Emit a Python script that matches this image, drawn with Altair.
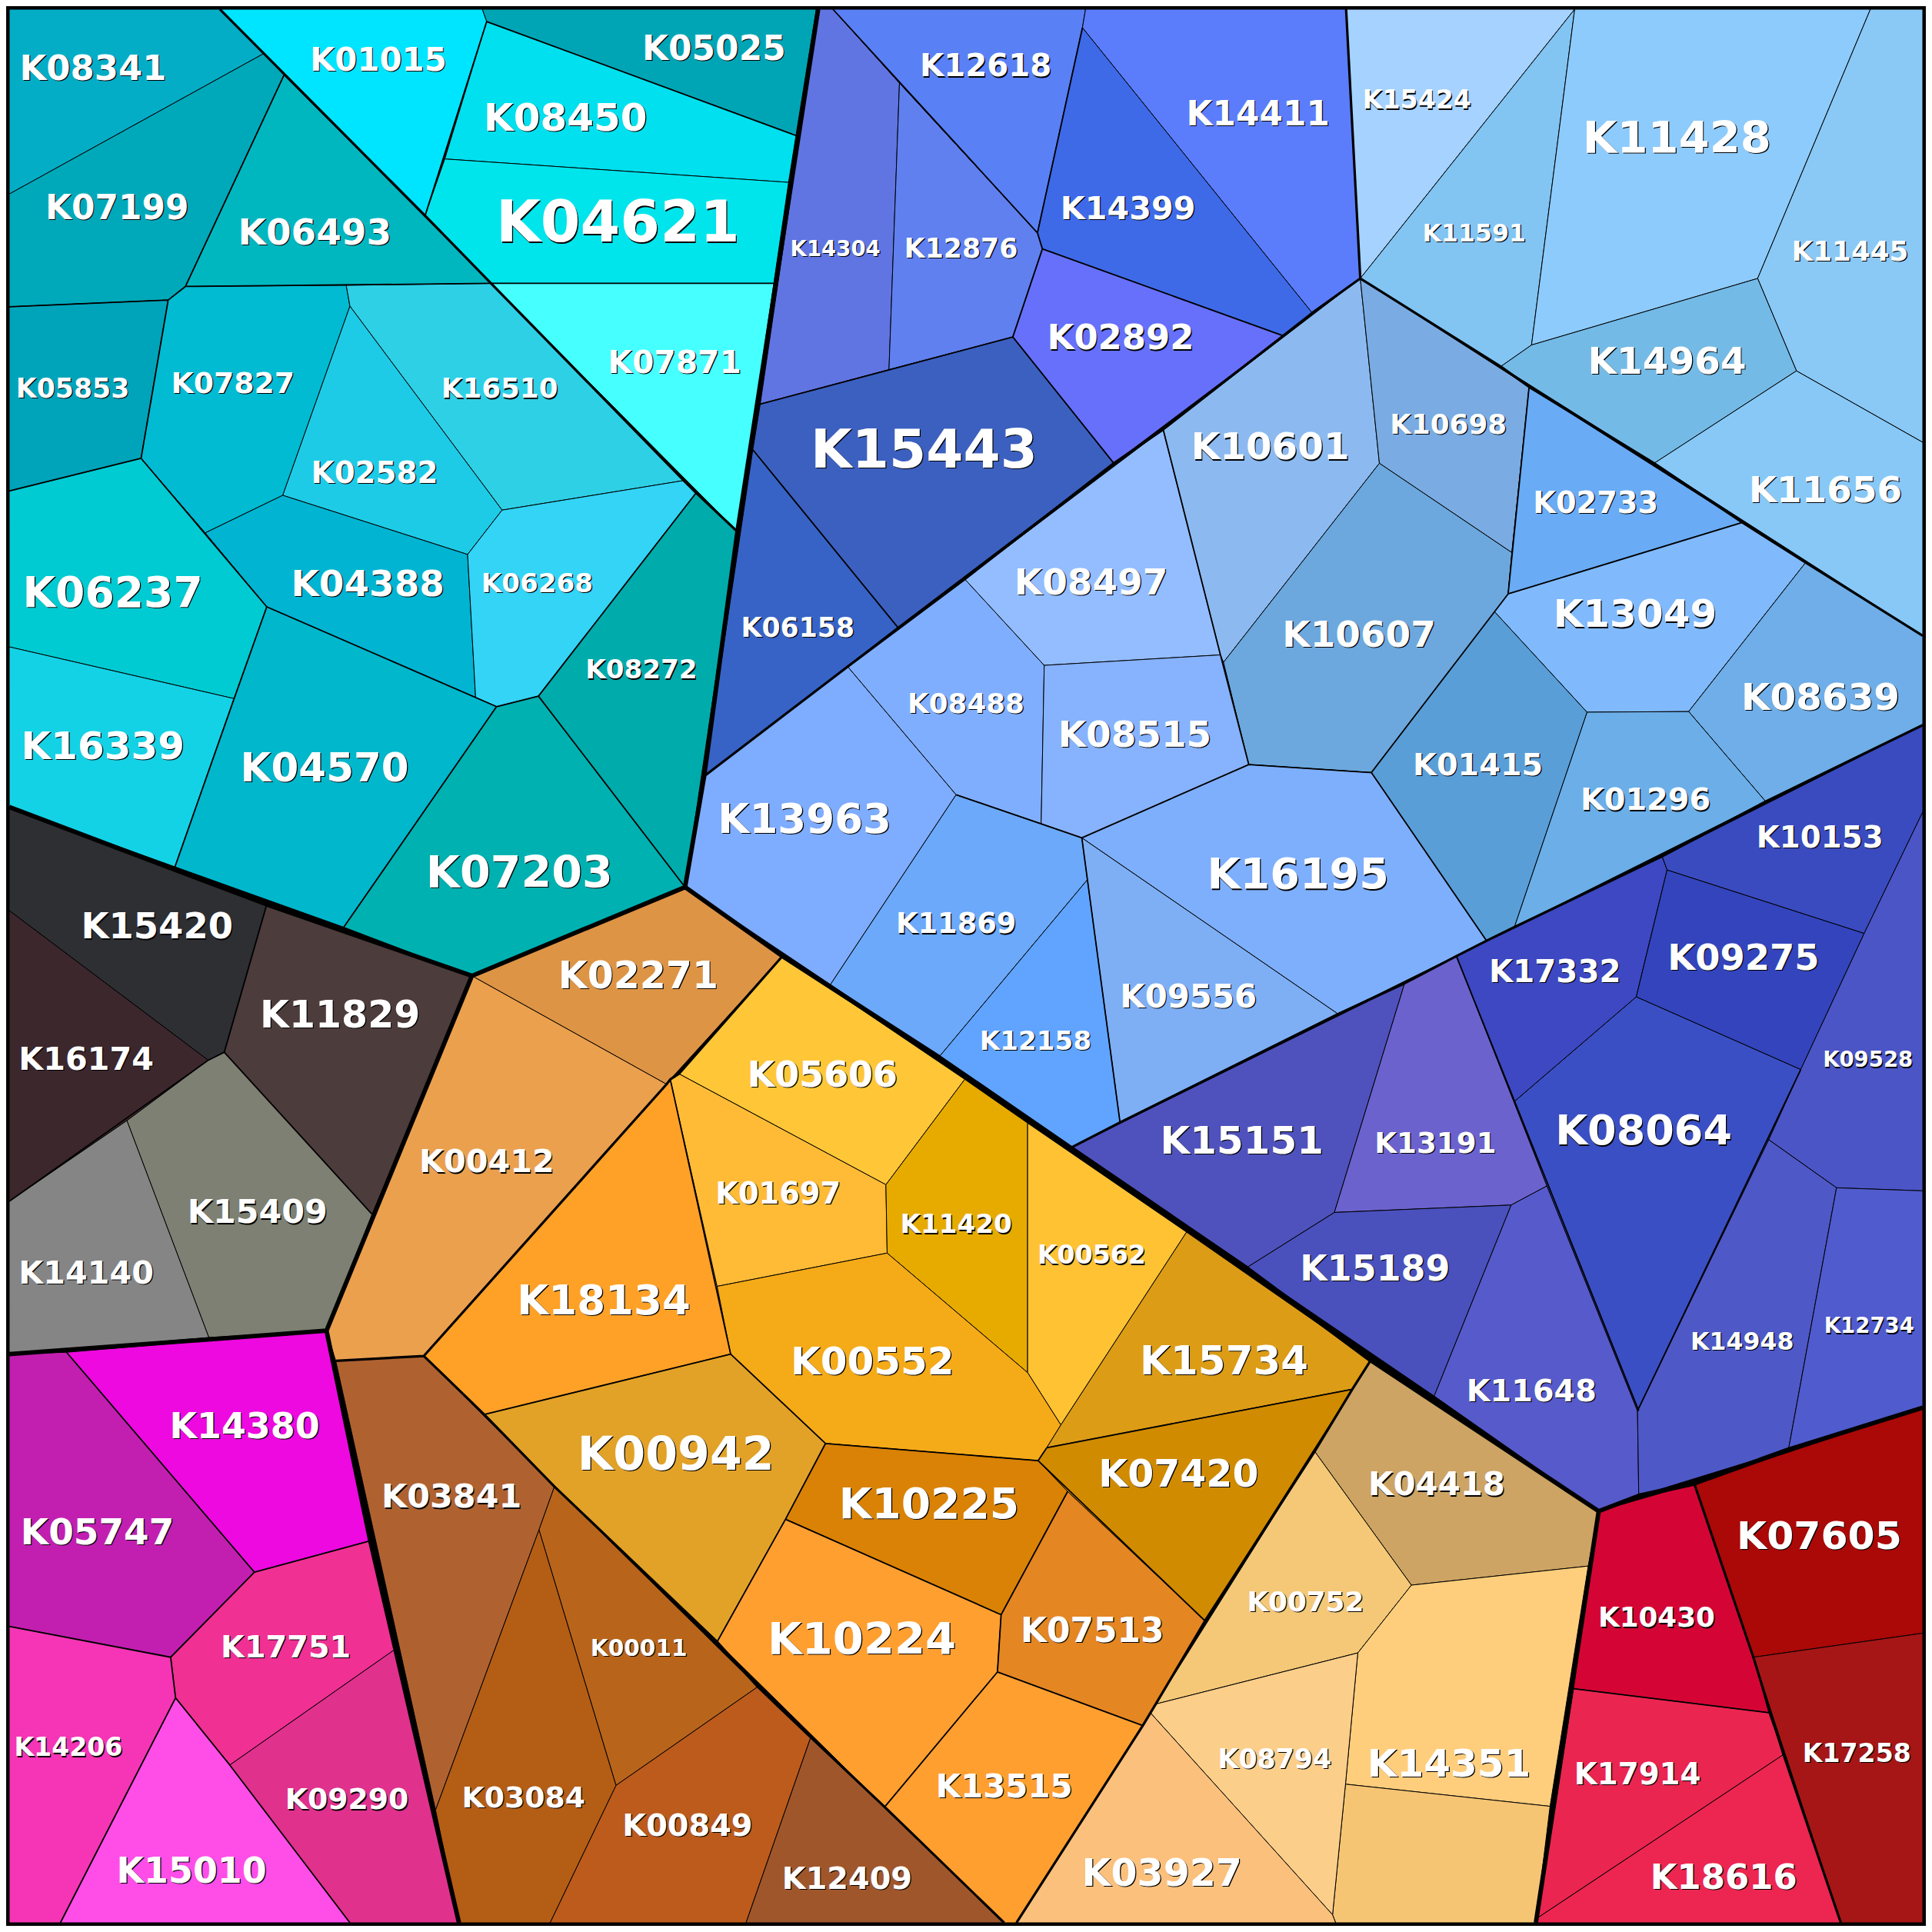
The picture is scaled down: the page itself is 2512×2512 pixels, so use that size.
import altair as alt
import pandas as pd

# Map units: the picture's 3136-unit grid
cells = {
 "K01015":[(357,15),(783,15),(790,35),(690,350)],
 "K05025":[(783,15),(1325,15),(1292,220),(790,35)],
 "K08450":[(790,35),(1292,220),(1280,296),(722,258)],
 "K04621":[(722,258),(1280,296),(1256,460),(797,460),(690,350)],
 "K07871":[(797,460),(1256,460),(1197,863)],
 "K08341":[(15,15),(357,15),(428,87),(15,315)],
 "K07199":[(15,315),(428,87),(461,122),(301,465),(273,487),(15,498)],
 "K06493":[(461,122),(797,460),(562,463),(301,465)],
 "K05853":[(15,498),(273,487),(229,744),(15,797)],
 "K07827":[(273,487),(301,465),(562,463),(568,497),(459,804),(333,865),(229,744)],
 "K16510":[(562,463),(797,460),(1110,780),(815,828),(568,497)],
 "K02582":[(568,497),(815,828),(759,900),(459,804)],
 "K04388":[(333,865),(459,804),(759,900),(772,1132),(433,985)],
 "K06268":[(815,828),(1110,780),(1130,800),(874,1130),(806,1147),(772,1132),(759,900)],
 "K06237":[(15,797),(229,744),(333,865),(433,985),(380,1134),(15,1050)],
 "K16339":[(15,1050),(380,1134),(284,1407),(15,1310)],
 "K04570":[(433,985),(772,1132),(806,1147),(558,1505),(284,1407),(380,1134)],
 "K07203":[(806,1147),(874,1130),(1112,1440),(766,1584),(558,1505)],
 "K08272":[(874,1130),(1130,800),(1197,863),(1112,1440)],
 "K15420":[(15,1310),(433,1468),(364,1708),(338,1721),(15,1478)],
 "K11829":[(433,1468),(766,1584),(604,1971),(364,1708)],
 "K16174":[(15,1478),(338,1721),(206,1819),(15,1950)],
 "K15409":[(338,1721),(364,1708),(604,1971),(530,2160),(339,2171),(206,1819)],
 "K14140":[(15,1950),(206,1819),(339,2171),(15,2198)],
 "K14380":[(108,2195),(530,2160),(601,2501),(413,2552)],
 "K05747":[(15,2198),(108,2195),(413,2552),(277,2690),(15,2640)],
 "K17751":[(413,2552),(601,2501),(640,2678),(373,2865),(285,2756),(277,2690)],
 "K09290":[(640,2678),(745,3121),(568,3121),(373,2865)],
 "K14206":[(15,2640),(277,2690),(285,2756),(98,3121),(15,3121)],
 "K15010":[(285,2756),(373,2865),(568,3121),(98,3121)],
 "K03841":[(545,2209),(688,2201),(900,2413),(875,2483),(707,2938)],
 "K03084":[(875,2483),(1000,2898),(893,3121),(745,3121),(707,2938)],
 "K00011":[(900,2413),(1230,2738),(1000,2898),(875,2483)],
 "K00849":[(1000,2898),(1230,2738),(1316,2820),(1211,3121),(893,3121)],
 "K12409":[(1316,2820),(1630,3121),(1211,3121)],
 "K02271":[(766,1584),(1112,1440),(1270,1552),(1088,1752),(1082,1760)],
 "K00412":[(766,1584),(1082,1760),(688,2201),(545,2209),(530,2160)],
 "K18134":[(1088,1752),(1164,2088),(1186,2198),(786,2296),(688,2201)],
 "K05606":[(1102,1743),(1270,1552),(1566,1752),(1438,1923)],
 "K01697":[(1102,1743),(1438,1923),(1440,2034),(1164,2088),(1088,1752)],
 "K11420":[(1438,1923),(1566,1752),(1668,1823),(1668,2228),(1440,2034)],
 "K00562":[(1668,1823),(1926,2000),(1722,2313),(1668,2228)],
 "K00552":[(1164,2088),(1440,2034),(1668,2228),(1722,2313),(1699,2350),(1685,2371),(1340,2343),(1186,2198)],
 "K15734":[(1926,2000),(2225,2208),(2195,2255),(1699,2350),(1722,2313)],
 "K07420":[(1699,2350),(2195,2255),(1956,2631),(1733,2421),(1685,2371)],
 "K00942":[(786,2296),(1186,2198),(1340,2343),(1275,2466),(1164,2665),(900,2413)],
 "K10225":[(1340,2343),(1685,2371),(1733,2421),(1625,2621),(1275,2466)],
 "K10224":[(1275,2466),(1625,2621),(1619,2714),(1436,2933),(1164,2665)],
 "K07513":[(1733,2421),(1956,2631),(1855,2801),(1619,2714),(1625,2621)],
 "K13515":[(1619,2714),(1855,2801),(1650,3121),(1630,3121),(1436,2933)],
 "K04418":[(2225,2208),(2595,2453),(2578,2542),(2291,2573),(2134,2356)],
 "K00752":[(2134,2356),(2291,2573),(2204,2683),(1876,2766)],
 "K14351":[(2291,2573),(2578,2542),(2516,2932),(2184,2896),(2204,2683)],
 "K_blank":[(2184,2896),(2516,2932),(2493,3121),(2168,3121),(2163,3108)],
 "K08794":[(2204,2683),(2184,2896),(2163,3108),(1868,2781),(1876,2766)],
 "K03927":[(1868,2781),(2163,3108),(2168,3121),(1650,3121)],
 "K07605":[(2750,2408),(3121,2285),(3121,2651),(2846,2690)],
 "K17258":[(2846,2690),(3121,2651),(3121,3121),(2988,3121)],
 "K10430":[(2595,2453),(2750,2408),(2846,2690),(2871,2780),(2554,2741)],
 "K17914":[(2554,2741),(2871,2780),(2895,2848),(2496,3113)],
 "K18616":[(2895,2848),(2988,3121),(2493,3121),(2496,3113)],
 "K15151":[(1738,1863),(2280,1596),(2166,1968),(2023,2058)],
 "K13191":[(2280,1596),(2364,1552),(2511,1925),(2453,1956),(2166,1968)],
 "K15189":[(2023,2058),(2166,1968),(2453,1956),(2328,2266)],
 "K11648":[(2453,1956),(2511,1925),(2658,2290),(2660,2428),(2595,2453),(2328,2266)],
 "K08064":[(2458,1788),(2656,1618),(2923,1736),(2871,1850),(2658,2290),(2511,1925)],
 "K17332":[(2364,1552),(2698,1390),(2706,1412),(2668,1568),(2656,1618),(2458,1788)],
 "K09275":[(2706,1412),(3026,1515),(2923,1736),(2656,1618)],
 "K10153":[(2698,1390),(3121,1177),(3121,1318),(3026,1515),(2706,1412)],
 "K09528":[(3121,1318),(3121,1933),(2981,1928),(2871,1850),(2923,1736),(3026,1515)],
 "K14948":[(2871,1850),(2981,1928),(2903,2353),(2660,2428),(2658,2290)],
 "K12734":[(2981,1928),(3121,1933),(3121,2285),(2903,2353)],
 "K13963":[(1143,1260),(1376,1082),(1552,1290),(1348,1598),(1112,1440)],
 "K08488":[(1376,1082),(1566,940),(1695,1080),(1690,1337),(1552,1290)],
 "K08497":[(1566,940),(1888,697),(1981,1063),(1695,1080)],
 "K08515":[(1695,1080),(1981,1063),(1986,1075),(2027,1241),(1756,1360),(1690,1337)],
 "K10601":[(1888,697),(2208,452),(2239,752),(1986,1075),(1981,1063)],
 "K10698":[(2208,452),(2482,628),(2454,897),(2239,752)],
 "K10607":[(2239,752),(2454,897),(2448,964),(2426,993),(2226,1254),(2027,1241),(1986,1075)],
 "K02733":[(2482,628),(2828,848),(2448,964),(2454,897)],
 "K13049":[(2448,964),(2828,848),(2931,913),(2741,1155),(2576,1156),(2426,993)],
 "K08639":[(2931,913),(3121,1032),(3121,1177),(2866,1301),(2741,1155)],
 "K01296":[(2576,1156),(2741,1155),(2866,1301),(2458,1505)],
 "K01415":[(2426,993),(2576,1156),(2458,1505),(2413,1527),(2226,1254)],
 "K16195":[(1756,1360),(2027,1241),(2226,1254),(2413,1527),(2172,1646)],
 "K09556":[(1756,1360),(2172,1646),(1818,1822),(1765,1428)],
 "K11869":[(1552,1290),(1690,1337),(1756,1360),(1765,1428),(1524,1716),(1348,1598)],
 "K12158":[(1765,1428),(1818,1822),(1738,1863),(1524,1716)],
 "K14304":[(1328,15),(1352,15),(1460,135),(1443,600),(1234,656)],
 "K12876":[(1460,135),(1684,378),(1692,404),(1644,547),(1443,600)],
 "K12618":[(1352,15),(1762,15),(1757,45),(1684,378),(1460,135)],
 "K14411":[(1762,15),(2185,15),(2208,452),(2130,508),(1757,45)],
 "K14399":[(1757,45),(2130,508),(2083,545),(1692,404),(1684,378)],
 "K02892":[(1692,404),(2083,545),(1808,752),(1644,547)],
 "K15443":[(1234,656),(1443,600),(1644,547),(1808,752),(1457,1018),(1222,730)],
 "K06158":[(1222,730),(1457,1018),(1143,1260)],
 "K15424":[(2185,15),(2556,15),(2208,452)],
 "K11591":[(2556,15),(2486,560),(2436,595),(2208,452)],
 "K11428":[(2556,15),(3036,15),(2853,452),(2486,560)],
 "K11445":[(3036,15),(3121,15),(3121,718),(2916,602),(2853,452)],
 "K14964":[(2486,560),(2853,452),(2916,602),(2685,752),(2436,595)],
 "K11656":[(2916,602),(3121,718),(3121,1032),(2685,752)],
}

colors = {
 "K01015":"#00E5FF","K05025":"#00A5B5","K08450":"#00E0EE","K04621":"#00E5EC","K07871":"#46FFFF",
 "K08341":"#04ADC6","K07199":"#00A9BA","K06493":"#00B7C0","K05853":"#00A4BA","K07827":"#00BBD2",
 "K16510":"#2ED0E6","K02582":"#1ECBE6","K04388":"#00B4D2","K06268":"#33D4F6","K06237":"#00CBD2",
 "K16339":"#14D2E6","K04570":"#00B7CC","K07203":"#00B1B1","K08272":"#00ABAB",
 "K15420":"#2E2F33","K11829":"#4D3C3C","K16174":"#3C272D","K15409":"#7D8072","K14140":"#858585",
 "K14380":"#EE09E0","K05747":"#C21FB0","K17751":"#F03093","K09290":"#E0318D","K14206":"#F535B5","K15010":"#FF4DE8",
 "K03841":"#AF6230","K03084":"#B45D15","K00011":"#B8651B","K00849":"#BC5B1C","K12409":"#A0562B",
 "K02271":"#DE9445","K00412":"#EBA04E","K18134":"#FFA127","K05606":"#FFC737","K01697":"#FFBB36",
 "K11420":"#E7AB00","K00562":"#FFC233","K00552":"#F5AA18","K15734":"#DC9C16","K07420":"#D08B00",
 "K00942":"#E2A228","K10225":"#D98205","K10224":"#FF9F30","K07513":"#E48622","K13515":"#FF9F30",
 "K04418":"#CDA463","K00752":"#F4C877","K14351":"#FFCE7D","K_blank":"#F6C574","K08794":"#FBCE8A","K03927":"#FAC07C",
 "K07605":"#AB0808","K17258":"#A61616","K10430":"#D40535","K17914":"#EA2550","K18616":"#EC2650",
 "K15151":"#4F52BC","K13191":"#6B62CE","K15189":"#4A50BC","K11648":"#575ACA","K08064":"#3B4FC4",
 "K17332":"#3D48C2","K09275":"#3344BC","K10153":"#3A4BC0","K09528":"#4B55C6","K14948":"#4E58C6","K12734":"#505BCE",
 "K13963":"#7EACFF","K08488":"#80AEFF","K08497":"#93BDFF","K08515":"#87B2FD","K10601":"#8CBAF0","K10698":"#7AABE2",
 "K10607":"#6CA8DD","K02733":"#69ABF5","K13049":"#80BAFD","K08639":"#6FAEE8","K01296":"#6BAEE8","K01415":"#5A9ED8",
 "K16195":"#7EAFFC","K09556":"#7EAFF5","K11869":"#6CA9FA","K12158":"#60A4FF",
 "K14304":"#6075E2","K12876":"#6080EF","K12618":"#5A80F5","K14411":"#5B7DFB","K14399":"#3E6AE8","K02892":"#6670FA",
 "K15443":"#3C60C0","K06158":"#3763C6",
 "K15424":"#A5D2FF","K11591":"#82C4F2","K11428":"#8DCBFC","K11445":"#8AC8F5","K14964":"#74BAE6","K11656":"#87C8F7",
}

# label: (x, y, weight)
labels = {
 "K08341":(151,110,44),"K01015":(614,95,41),"K05025":(1159,78,43),"K08450":(918,190,49),"K04621":(1003,362,73),
 "K07871":(1095,587,40),"K07199":(190,336,43),"K06493":(511,376,46),"K05853":(118,630,34),"K07827":(378,621,37),
 "K16510":(811,629,35),"K02582":(608,766,38),"K04388":(597,947,46),"K06268":(872,946,33.5),"K06237":(183,961,54),
 "K16339":(167,1210,49),"K04570":(527,1246,50.5),"K07203":(843,1416,56),"K08272":(1041,1086,33.5),
 "K15420":(255,1503,45.5),"K11829":(552,1646,48),"K16174":(140,1718,40.5),"K15409":(418,1966,42),"K14140":(140,2065,40.5),
 "K14380":(397,2314,45),"K05747":(158,2486,46),"K17751":(464,2672,39),"K14206":(111,2835,32.5),"K09290":(563,2920,37),"K15010":(311,3035,45),
 "K03841":(733,2428,42),"K03084":(850,2917,37),"K00011":(1037,2673,29),"K00849":(1116,2962,39),"K12409":(1375,3048,39),
 "K02271":(1036,1582,48),"K00412":(790,1885,40.5),"K18134":(980,2110,52),"K05606":(1335,1743,45),"K01697":(1263,1937,37.5),
 "K11420":(1552,1986,33.5),"K00562":(1772,2036,32.5),"K00552":(1416,2209,49),"K15734":(1987,2209,50.5),"K07420":(1913,2391,48),
 "K00942":(1097,2360,59),"K10225":(1508,2440,54),"K10224":(1399,2661,56.5),"K07513":(1773,2646,43),"K13515":(1630,2898,41),
 "K04418":(2332,2408,41),"K00752":(2119,2598,35),"K14351":(2352,2862,49),"K08794":(2069,2854,34),"K03927":(1886,3039,48),
 "K07605":(2953,2492,49.5),"K10430":(2689,2624,35),"K17258":(3014,2844,32.5),"K17914":(2658,2878,38),"K18616":(2798,3047,44),
 "K15151":(2016,1851,49),"K13191":(2330,1854,36.5),"K15189":(2232,2058,45),"K11648":(2486,2256,39),"K08064":(2668,1835,53),
 "K17332":(2524,1576,39.5),"K09275":(2830,1554,45.5),"K10153":(2954,1358,38),"K09528":(3032,1719,27),"K14948":(2828,2176,31),"K12734":(3034,2151,27),
 "K13963":(1306,1329,52),"K08488":(1568,1140,35),"K08497":(1771,944,46),"K08515":(1842,1191,46),"K10601":(2062,724,47.5),"K10698":(2351,687,35),
 "K10607":(2206,1029,46),"K02733":(2590,816,37.5),"K13049":(2654,996,49),"K08639":(2955,1130,47.5),"K01415":(2399,1240,39),"K01296":(2671,1297,39),
 "K16195":(2107,1418,54.5),"K09556":(1929,1616,41),"K11869":(1552,1498,36),"K12158":(1681,1688,33.5),
 "K14304":(1356,402,27),"K12876":(1560,402,34),"K12618":(1600,106,39.5),"K14411":(2042,184,43),"K14399":(1831,338,40.5),"K02892":(1819,548,44),
 "K15443":(1500,730,68),"K06158":(1295,1018,34),
 "K15424":(2300,161,32.5),"K11591":(2393,378,31),"K11428":(2722,224,56.5),"K11445":(3003,406,35),"K14964":(2706,585,47.5),"K11656":(2963,794,46),
}

thick_edges = [
 [(1328,15),(1197,863),(1143,1260),(1112,1440)],
 [(15,1310),(433,1468),(766,1584),(1112,1440)],
 [(1112,1440),(1270,1552),(1524,1716),(1738,1863),(2023,2058),(2225,2208),(2595,2453),(2660,2428),(2750,2408),(2903,2353),(3121,2285)],
 [(766,1584),(530,2160),(15,2198)],
 [(530,2160),(601,2501),(745,3121)],
 [(2595,2453),(2493,3121)],
]
medium_edges = [
 [(357,15),(690,350),(797,460),(1110,780),(1130,800),(1197,863)],
 [(1143,1260),(1376,1082),(1566,940),(1808,752),(1888,697),(2083,545),(2130,508),(2208,452)],
 [(2185,15),(2208,452)],
 [(2208,452),(2436,595),(2482,628),(2685,752),(2828,848),(2931,913),(3121,1032)],
 [(3121,1177),(2866,1301),(2698,1390),(2458,1505),(2413,1527),(2364,1552),(2280,1596),(2172,1646),(1818,1822),(1738,1863)],
 [(1270,1552),(1102,1743),(1088,1752),(1082,1760),(688,2201)],
 [(688,2201),(786,2296),(900,2413),(1164,2665),(1230,2738),(1316,2820),(1436,2933),(1630,3121)],
 [(2225,2208),(2195,2255),(2134,2356),(1956,2631),(1876,2766),(1855,2801),(1650,3121)],
 [(545,2209),(688,2201)],
 [(2750,2408),(2846,2690),(2895,2848),(2988,3121)],
]
light_edges = [
 [(108,2195),(413,2552),(277,2690),(285,2756),(98,3121)],[(413,2552),(601,2501)],[(15,2640),(277,2690)],[(285,2756),(373,2865),(568,3121)],
 [(15,1950),(338,1721),(364,1708),(433,1468)],[(364,1708),(604,1971)],
 [(461,122),(301,465),(273,487),(15,498)],[(273,487),(229,744),(15,797)],[(229,744),(433,985),(380,1134),(284,1407)],
 [(301,465),(797,460)],[(433,985),(806,1147),(558,1505)],[(806,1147),(874,1130),(1112,1440)],[(874,1130),(1130,800)],
 [(797,460),(1256,460)],[(690,350),(790,35)],[(790,35),(1292,220)],
 [(1234,656),(1644,547),(1808,752)],[(1692,404),(1644,547)],[(1692,404),(2083,545)],[(1222,730),(1457,1018)],[(1684,378),(1757,45)],[(1352,15),(1684,378),(1692,404)],
 [(1088,1752),(1186,2198),(1340,2343),(1275,2466),(1164,2665)],[(786,2296),(1186,2198)],[(1340,2343),(1685,2371),(1956,2631)],
 [(1699,2350),(2195,2255)],[(1685,2371),(1699,2350)],[(1275,2466),(1625,2621),(1619,2714),(1436,2933)],[(1733,2421),(1625,2621)],[(1619,2714),(1855,2801)],
 [(1888,697),(1981,1063),(2027,1241),(1756,1360),(1552,1290)],[(1756,1360),(1818,1822)],[(2027,1241),(2226,1254),(2413,1527)],
 [(2226,1254),(2448,964),(2828,848)],[(2448,964),(2482,628)],
 [(2364,1552),(2660,2290)],[(2658,2290),(2923,1736)],[(2554,2741),(2871,2780)],
]

names = list(cells)
fills = [colors[n] for n in names]


def polygon_feature(name, pts):
    ring = [list(p) for p in pts] + [list(pts[0])]
    return {"type": "Feature", "properties": {"name": name},
            "geometry": {"type": "Polygon", "coordinates": [ring]}}


def lines_feature(chains):
    return [{"type": "Feature", "properties": {},
             "geometry": {"type": "MultiLineString",
                          "coordinates": [[list(p) for p in c] for c in chains]}}]


proj = dict(type="identity", scale=2512 / 3136, translate=[-8, -8])

cell_layer = alt.Chart(alt.Data(values=[polygon_feature(n, cells[n]) for n in names])).mark_geoshape(
    stroke="black", strokeWidth=1.0
).encode(
    color=alt.Color("properties.name:N", scale=alt.Scale(domain=names, range=fills), legend=None)
).project(**proj)


def edge_layer(chains, w):
    return alt.Chart(alt.Data(values=lines_feature(chains))).mark_geoshape(
        filled=False, stroke="black", strokeWidth=w, strokeJoin="round"
    ).project(**proj)


label_df = pd.DataFrame(
    [{"name": k, "x": v[0], "y": v[1], "weight": v[2] * 1.02} for k, v in labels.items()]
)


def text_layer(color, dx, dy):
    return alt.Chart(label_df).mark_text(
        font="DejaVu Sans", fontWeight="bold", color=color, dx=dx, dy=dy,
        align="center", baseline="middle"
    ).encode(
        longitude="x:Q", latitude="y:Q", text="name:N",
        size=alt.Size("weight:Q", scale=None, legend=None)
    ).project(**proj)


chart = alt.layer(
    cell_layer,
    edge_layer(light_edges, 1.8),
    edge_layer(medium_edges, 3.2),
    edge_layer(thick_edges, 5.8),
    text_layer("#000000", 1.2, 3.7),
    text_layer("#FFFFFF", 0, 2.5),
).properties(
    width=2496, height=2496, background="black", padding=0,
    autosize=alt.AutoSizeParams(type="none")
).configure_view(stroke=None)

chart.save("out.html", embed_options={"renderer": "svg", "actions": False})
